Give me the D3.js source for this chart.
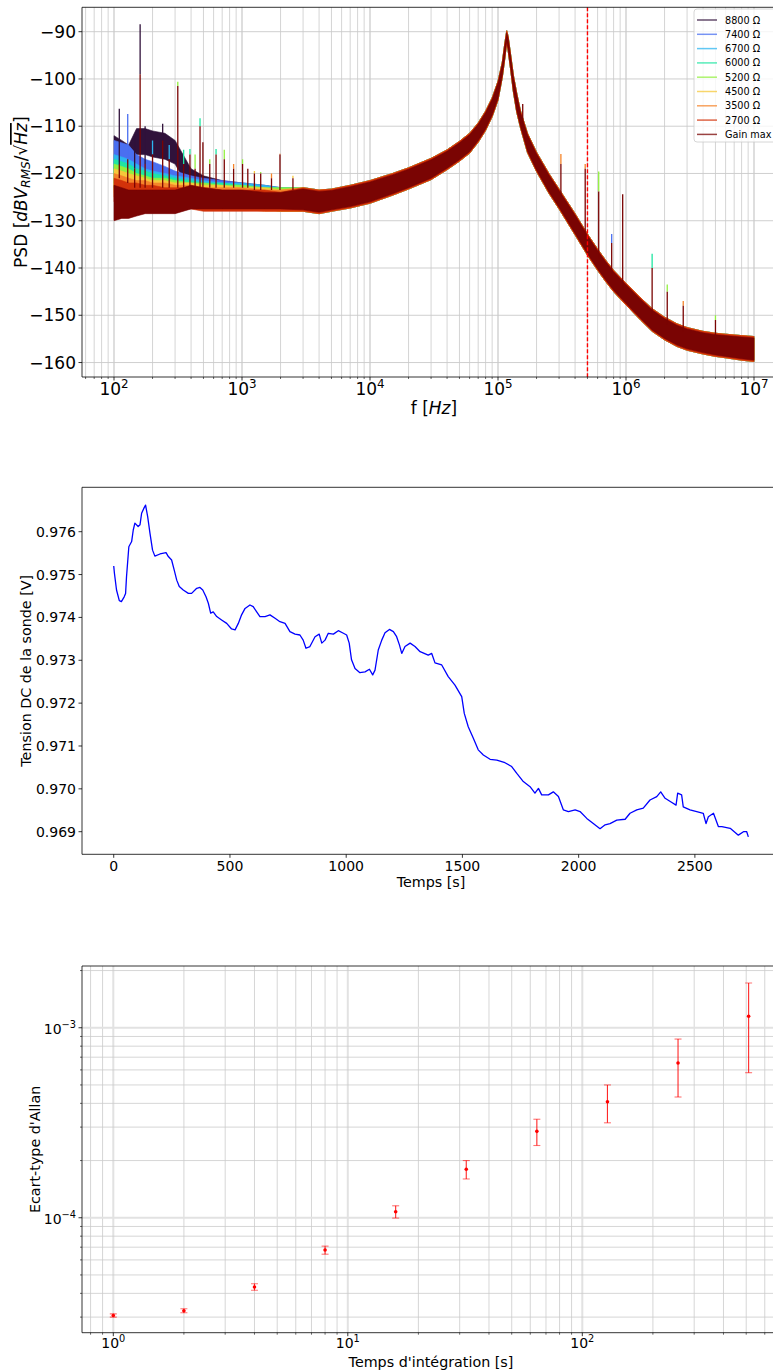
<!DOCTYPE html>
<html><head><meta charset="utf-8">
<script src="https://cdn.jsdelivr.net/npm/d3@7"></script>
<style>
body{margin:0;background:#fff}
svg{display:block}
text{font-family:"DejaVu Sans",sans-serif;fill:#000}
</style>
</head><body>
<svg id="c" width="773" height="1371"></svg>
<script>
// ---------------- DATA : chart 1 (PSD) ----------------
const seriesNames = ["8800 Ω","7400 Ω","6700 Ω","6000 Ω","5200 Ω","4500 Ω","3500 Ω","2700 Ω","Gain max"];
const seriesColors = ["#30123b","#4a6ff0","#2cb6f0","#1fe6a2","#92f03e","#f6c83a","#f5842a","#d2320a","#7a0403"];
const freqLow = [100,115,130,150,175,200,250,300,400,500,700,1000,1500,2000];
// upper / lower envelope of each noisy trace below 2 kHz (dB)
const hi8800 = [-112,-113,-114,-110.5,-110.5,-111,-111.5,-113,-119,-120.5,-121.5,-122,-122.5,-123];
const lo8800 = [-121,-120,-120,-116,-116,-116.5,-117,-118,-124,-126,-127,-127,-127.5,-127.5];
const hi7400 = [-113,-113.5,-114,-116,-117,-117.5,-118.5,-119.5,-120.5,-121,-121.5,-122,-122.5,-123];
const lo7400 = [-120,-120.5,-121,-122,-123,-123.5,-124,-124.5,-125.5,-126,-126.5,-127,-127.5,-127.5];
const hi6700 = [-116,-116.5,-117,-118,-119,-119.5,-120,-120.5,-121,-121.5,-122,-122,-122.5,-123];
const lo6700 = [-122,-122.5,-123,-123.5,-124,-124.5,-125,-125.5,-126,-126.5,-127,-127,-127.5,-127.5];
const hi6000 = [-117,-117.5,-118,-119,-119.5,-120,-120.5,-121,-121.5,-122,-122,-122.5,-123,-123];
const lo6000 = [-123,-123.5,-124,-124.5,-125,-125,-125.5,-126,-126.5,-127,-127,-127.5,-127.5,-128];
const hi5200 = [-118,-118.5,-119,-120,-120.5,-121,-121,-121.5,-122,-122,-122.5,-122.5,-123,-123];
const lo5200 = [-123.5,-124,-124.5,-125,-125.5,-125.5,-126,-126.5,-126.5,-127,-127,-127.5,-127.5,-128];
const hi4500 = [-119,-119.5,-120,-120.5,-121,-121.5,-121.5,-122,-122,-122.5,-122.5,-123,-123,-123.5];
const lo4500 = [-124,-124.5,-125,-125.5,-126,-126,-126.5,-126.5,-127,-127,-127.5,-127.5,-127.5,-128];
const hi3500 = [-120,-120.5,-121,-121.5,-121.5,-122,-122,-122.5,-122.5,-123,-123,-123,-123.5,-123.5];
const lo3500 = [-125,-125.5,-126,-126,-126.5,-126.5,-127,-127,-127,-127.5,-127.5,-127.5,-128,-128];
const hi2700 = [-121,-121.5,-122,-122,-122.5,-122.5,-123,-123,-123,-123,-123.5,-123.5,-123.5,-124];
const lo2700 = [-126,-126.5,-127,-127,-127.5,-127.5,-127.5,-127.5,-127.5,-128,-128,-128,-128,-128];
const hiGain = [-122.5,-123,-123.5,-123.5,-123.5,-123.5,-123.5,-123.5,-122.5,-123,-123.5,-123.5,-124,-124];
const loGain = [-130,-129.5,-129.5,-129,-128.5,-128.5,-128.5,-128.5,-127.5,-127.5,-127.5,-127.5,-127.5,-127.5];
// above 3 kHz all traces overlap
const freqCommon = [3000,4000,5000,7000,1e4,1.5e4,2e4,3e4,4e4,5e4,6e4,7e4,8e4,9e4,1e5,1.08e5,1.13e5,1.17e5,1.2e5,1.25e5,1.32e5,1.4e5,1.5e5,1.7e5,2e5,2.5e5,3e5,4e5,5e5,6e5,7e5,8e5,1e6,1.3e6,1.6e6,2e6,2.5e6,3e6,4e6,5e6,6e6,8e6,1e7];
const commonHi = [-123,-123.5,-123.3,-122.5,-121.5,-120,-118.8,-116.8,-115,-113.2,-111.5,-109.3,-106.8,-104,-100.5,-96.5,-92.5,-89.8,-91,-94.5,-99.3,-103,-106.8,-111.5,-115.5,-120,-123.3,-128.5,-132.8,-136,-138.5,-140.5,-143.2,-146.3,-148.6,-150.4,-151.8,-152.6,-153.4,-153.8,-154,-154.3,-154.5];
const commonLo = [-128,-128.5,-128,-127.3,-126.3,-124.6,-123.3,-121.3,-119.2,-117.4,-115.7,-113.4,-110.9,-108,-104.5,-99.7,-95.7,-92.3,-94,-97.6,-102.8,-107,-110.4,-115.6,-119.6,-124.2,-127.5,-133,-137.3,-140.5,-143,-145,-147.8,-151,-153.4,-155.2,-156.6,-157.4,-158.2,-158.7,-159,-159.5,-159.8];
const gainCommonHi = [-123.3,-123.8,-123.6,-122.8,-121.8,-120.3,-119.1,-117.1,-115.3,-113.5,-111.8,-109.6,-107.1,-104.3,-100.8,-96.8,-92.8,-90.2,-91.3,-94.8,-99.6,-103.3,-107.1,-111.8,-115.8,-120.3,-123.6,-128.8,-133.1,-136.3,-138.8,-140.8,-143.5,-146.6,-148.9,-150.7,-152.1,-152.9,-153.7,-154.1,-154.3,-154.6,-154.8];
const gainCommonLo = [-127.7,-128.2,-127.7,-127,-126,-124.3,-123,-121,-118.9,-117.1,-115.4,-113.1,-110.6,-107.7,-104.2,-99.4,-95.4,-92,-93.7,-97.3,-102.5,-106.7,-110.1,-115.3,-119.3,-123.9,-127.2,-132.7,-137,-140.2,-142.7,-144.7,-147.5,-150.7,-153.1,-154.9,-156.3,-157.1,-157.9,-158.4,-158.7,-159.2,-159.5];
// narrow lines (spikes): frequency, base, top of "Gain max", top of highest trace, index of that trace
const spikeHz   = [110,128,145,160,175,200,240,270,315,350,392,430,470,495,560,627,727,860,1010,1110,1250,1400,1700,1980,2500,156e3,310e3,480e3,612e3,773e3,942e3,1.6e6,2.1e6,2.8e6,5e6];
const spikeBase = [-121,-122,-123,-123,-123,-123,-123,-123,-123,-123,-123,-123,-123,-123,-123,-123,-123,-123,-123,-123,-123.5,-123.5,-123.5,-123.5,-123.5,-110,-125,-134,-138,-141.5,-144.5,-150,-152,-153.5,-155];
const spikeGain = [-118,-117,-119,-99,-118,-116,-113,-117,-101.5,-118,-116,-119,-110,-113.4,-118,-116,-117,-119,-118,-119,-120,-120,-121,-116,-121,-105.3,-118,-119,-123.8,-134.7,-124.4,-140,-145,-148,-151];
const spikeTop  = [-106.3,-107.4,-112,-88.4,-110,-113,-109.5,-114,-100.6,-115,-114.8,-116,-108.3,-113.4,-117,-114.8,-115,-118,-117,-119,-119.5,-119.7,-120,-115.8,-120.5,-105.3,-115.9,-118,-119.6,-132.8,-124.4,-137,-143.5,-147,-150];
const spikeTip  = [0,1,0,0,0,2,0,2,4,3,3,4,3,8,4,3,4,6,4,8,5,4,6,6,5,8,6,6,4,1,8,3,4,6,4];
const markerHz = 5e5;
const psdYTicks = [-90,-100,-110,-120,-130,-140,-150,-160];

// ---------------- DATA : chart 2 (DC voltage) ----------------
const timeS = [0,3,12,24,33,45,51,55,65,77,84,91,105,113,120,130,137,146,156,167,177,199,225,235,249,260,271,282,299,321,335,357,371,383,397,407,417,428,443,464,486,507,522,536,550,565,586,600,615,629,651,672,694,715,737,758,780,801,815,827,844,866,884,895,909,923,945,966,988,1002,1013,1023,1038,1059,1081,1100,1114,1124,1138,1153,1167,1186,1203,1217,1229,1239,1253,1275,1296,1318,1353,1368,1382,1411,1439,1468,1497,1508,1525,1547,1568,1590,1619,1648,1683,1712,1734,1762,1791,1812,1827,1841,1870,1891,1913,1934,1956,1985,2006,2035,2063,2092,2114,2135,2164,2200,2221,2250,2278,2307,2336,2353,2372,2401,2419,2426,2443,2450,2479,2508,2536,2548,2558,2580,2601,2616,2652,2687,2709,2723,2730];
const voltV = [0.97520,0.97503,0.97464,0.97439,0.97437,0.97448,0.97456,0.97495,0.97565,0.97577,0.97604,0.97620,0.97612,0.97616,0.97643,0.97655,0.97662,0.97635,0.97596,0.97557,0.97543,0.97548,0.97551,0.97542,0.97534,0.97511,0.97487,0.97472,0.97464,0.97456,0.97456,0.97468,0.97470,0.97464,0.97448,0.97433,0.97410,0.97413,0.97402,0.97394,0.97386,0.97373,0.97371,0.97386,0.97406,0.97421,0.97429,0.97425,0.97413,0.97402,0.97402,0.97406,0.97398,0.97390,0.97386,0.97367,0.97361,0.97359,0.97347,0.97328,0.97332,0.97355,0.97361,0.97340,0.97347,0.97363,0.97361,0.97369,0.97363,0.97359,0.97340,0.97301,0.97281,0.97271,0.97273,0.97279,0.97266,0.97277,0.97324,0.97347,0.97364,0.97372,0.97367,0.97355,0.97336,0.97316,0.97332,0.97340,0.97332,0.97320,0.97312,0.97316,0.97294,0.97289,0.97262,0.97242,0.97215,0.97176,0.97145,0.97118,0.97091,0.97079,0.97069,0.97067,0.97061,0.97052,0.97036,0.97017,0.97005,0.96990,0.97001,0.96986,0.96986,0.96993,0.96982,0.96951,0.96947,0.96951,0.96947,0.96931,0.96919,0.96907,0.96916,0.96919,0.96927,0.96929,0.96943,0.96951,0.96955,0.96974,0.96982,0.96993,0.96978,0.96968,0.96962,0.96990,0.96986,0.96958,0.96951,0.96947,0.96943,0.96919,0.96935,0.96943,0.96912,0.96912,0.96908,0.96892,0.96900,0.96900,0.96888];
const voltTicks = [0.969,0.970,0.971,0.972,0.973,0.974,0.975,0.976];
const timeTicks = [0,500,1000,1500,2000,2500];

// ---------------- DATA : chart 3 (Allan deviation) ----------------
const tauS    = [1,2,4,8,16,32,64,128,256,512];
const adev    = [3.06e-5,3.24e-5,4.32e-5,6.76e-5,1.076e-4,1.80e-4,2.85e-4,4.08e-4,6.52e-4,1.15e-3];
const adevErr = [6e-7,8e-7,1.7e-6,3.3e-6,8e-6,2e-5,4.5e-5,9.2e-5,2.2e-4,5.7e-4];

// ---------------- DRAWING ----------------
const svg = d3.select("#c");
const defs = svg.append("defs");
function powLabel(sel, base, exp, fs){
  sel.append("tspan").text(base);
  sel.append("tspan").attr("font-size", fs*0.7).attr("dy", -fs*0.42).text(exp);
}
function clip(id, x0, y0, x1, y1){
  defs.append("clipPath").attr("id", id).append("rect").attr("x", x0).attr("y", y0).attr("width", x1-x0).attr("height", y1-y0);
}
function minorLog(lo, hi){
  const out=[];
  for(let e=Math.floor(Math.log10(lo)); e<=Math.ceil(Math.log10(hi)); e++){
    for(let m=1;m<10;m++){ const v=m*Math.pow(10,e); if(v>=lo && v<=hi) out.push({v, major:m===1}); }
  }
  return out;
}

// ===== chart 1 =====
{
  const L=82, R=786, T=7.3, B=377;
  const x = d3.scaleLog().domain([Math.pow(10,1.75), Math.pow(10,7.25)]).range([L,R]);
  const y = d3.scaleLinear().domain([-163.06,-84.84]).range([B,T]);
  const g = svg.append("g");
  clip("c1", L, T, R, B);
  const grid = g.append("g");
  minorLog(x.domain()[0], x.domain()[1]).forEach(t=>{
    grid.append("line").attr("x1",x(t.v)).attr("x2",x(t.v)).attr("y1",T).attr("y2",B)
      .attr("stroke", t.major?"#dedede":"#c9c9c9").attr("stroke-width", t.major?2:0.8);
  });
  psdYTicks.forEach(v=>{
    grid.append("line").attr("x1",L).attr("x2",R).attr("y1",y(v)).attr("y2",y(v))
      .attr("stroke","#c9c9c9").attr("stroke-width",0.9);
  });
  const his=[hi8800,hi7400,hi6700,hi6000,hi5200,hi4500,hi3500,hi2700,hiGain];
  const los=[lo8800,lo7400,lo6700,lo6000,lo5200,lo4500,lo3500,lo2700,loGain];
  const series = seriesNames.map((n,i)=>{
    const cHi = i===8?gainCommonHi:commonHi, cLo = i===8?gainCommonLo:commonLo;
    const pts = freqLow.map((f,j)=>({f, hi:his[i][j], lo:los[i][j]}))
      .concat(freqCommon.map((f,j)=>({f, hi:cHi[j], lo:cLo[j]})));
    return {name:n, color:seriesColors[i], pts};
  });
  const area = d3.area().x(d=>x(d.f)).y0(d=>y(d.lo)).y1(d=>y(d.hi));
  const plot = g.append("g").attr("clip-path","url(#c1)");
  series.forEach(s=>{
    plot.append("path").attr("d", area(s.pts)).attr("fill", s.color)
      .attr("stroke", s.color).attr("stroke-width", 0.6).attr("stroke-linejoin","round");
  });
  spikeHz.forEach((f,k)=>{
    plot.append("line").attr("x1",x(f)).attr("x2",x(f)).attr("y1",y(spikeGain[k])).attr("y2",y(spikeTop[k]))
      .attr("stroke", seriesColors[spikeTip[k]]).attr("stroke-width",1.3);
    plot.append("line").attr("x1",x(f)).attr("x2",x(f)).attr("y1",y(spikeBase[k])).attr("y2",y(spikeGain[k]))
      .attr("stroke", seriesColors[8]).attr("stroke-width",1.3);
  });
  plot.append("line").attr("x1",x(markerHz)).attr("x2",x(markerHz)).attr("y1",T).attr("y2",B)
    .attr("stroke","red").attr("stroke-width",1.4).attr("stroke-dasharray","4,2");
  // frame
  g.append("path").attr("d",`M${R},${T}H${L}V${B}H${R}`).attr("fill","none").attr("stroke","#000").attr("stroke-width",0.8);
  // x ticks
  minorLog(x.domain()[0], x.domain()[1]).forEach(t=>{
    g.append("line").attr("x1",x(t.v)).attr("x2",x(t.v)).attr("y1",B).attr("y2",B+(t.major?3.5:2))
      .attr("stroke","#000").attr("stroke-width",t.major?0.8:0.6);
  });
  [2,3,4,5,6,7].forEach(e=>{
    const t = g.append("text").attr("x",x(Math.pow(10,e))).attr("y",B+18).attr("text-anchor","middle").attr("font-size",17);
    powLabel(t, "10", String(e), 17);
  });
  psdYTicks.forEach(v=>{
    g.append("line").attr("x1",L-3.5).attr("x2",L).attr("y1",y(v)).attr("y2",y(v)).attr("stroke","#000").attr("stroke-width",0.8);
    g.append("text").attr("x",L-6).attr("y",y(v)+6).attr("text-anchor","end").attr("font-size",17).text("−"+Math.abs(v));
  });
  // x label
  const xl = g.append("text").attr("x",(L+R)/2).attr("y",B+37).attr("text-anchor","middle").attr("font-size",17);
  xl.append("tspan").text("f [");
  xl.append("tspan").attr("font-style","italic").text("Hz");
  xl.append("tspan").text("]");
  // y label
  const yl = g.append("text").attr("transform",`translate(27,${(T+B)/2}) rotate(-90)`).attr("text-anchor","middle").attr("font-size",17);
  yl.append("tspan").text("PSD [");
  yl.append("tspan").attr("font-style","italic").text("dBV");
  yl.append("tspan").attr("font-style","italic").attr("font-size",12).attr("dy",3).text("RMS");
  yl.append("tspan").attr("dy",-3).text("/√");
  yl.append("tspan").attr("font-style","italic").attr("text-decoration","overline").text("Hz");
  yl.append("tspan").text("]");
  // legend
  const lg = g.append("g");
  lg.append("rect").attr("x",694).attr("y",9).attr("width",110).attr("height",133).attr("rx",3)
    .attr("fill","#fff").attr("fill-opacity",0.8).attr("stroke","#cccccc").attr("stroke-width",0.8);
  seriesNames.forEach((n,i)=>{
    const yy = 20 + i*14.3;
    lg.append("line").attr("x1",697).attr("x2",717).attr("y1",yy).attr("y2",yy)
      .attr("stroke",seriesColors[i]).attr("stroke-width",1.5).attr("stroke-opacity",0.75);
    lg.append("text").attr("x",725).attr("y",yy+3.5).attr("font-size",9.7).text(n);
  });
}

// ===== chart 2 =====
{
  const L=82, R=786, T=487.3, B=854.3;
  const x = d3.scaleLinear().domain([-136.5, 2892]).range([L,R]);
  const y = d3.scaleLinear().domain([0.969,0.976]).range([831.7,531.7]);
  const g = svg.append("g");
  clip("c2", L, T, R, B);
  const line = d3.line().x((d,i)=>x(timeS[i])).y(d=>y(d));
  g.append("g").attr("clip-path","url(#c2)").append("path").attr("d", line(voltV))
    .attr("fill","none").attr("stroke","#0000ff").attr("stroke-width",1.3).attr("stroke-linejoin","round");
  g.append("path").attr("d",`M${R},${T}H${L}V${B}H${R}`).attr("fill","none").attr("stroke","#000").attr("stroke-width",0.8);
  timeTicks.forEach(v=>{
    g.append("line").attr("x1",x(v)).attr("x2",x(v)).attr("y1",B).attr("y2",B+3.5).attr("stroke","#000").attr("stroke-width",0.8);
    g.append("text").attr("x",x(v)).attr("y",B+16.5).attr("text-anchor","middle").attr("font-size",14).text(v);
  });
  voltTicks.forEach(v=>{
    g.append("line").attr("x1",L-3.5).attr("x2",L).attr("y1",y(v)).attr("y2",y(v)).attr("stroke","#000").attr("stroke-width",0.8);
    g.append("text").attr("x",L-6).attr("y",y(v)+5).attr("text-anchor","end").attr("font-size",14).text(d3.format(".3f")(v));
  });
  g.append("text").attr("x",431).attr("y",B+33).attr("text-anchor","middle").attr("font-size",14.3).text("Temps [s]");
  g.append("text").attr("transform",`translate(31,${(T+B)/2}) rotate(-90)`).attr("text-anchor","middle").attr("font-size",14.3).text("Tension DC de la sonde [V]");
}

// ===== chart 3 =====
{
  const L=82, R=786, T=966, B=1332.7;
  const x = d3.scaleLog().domain([Math.pow(10,(L-113.3)/234.5), Math.pow(10,(R-113.3)/234.5)]).range([L,R]);
  const y = d3.scaleLog().domain([Math.pow(10,-4.605), Math.pow(10,-2.675)]).range([B,T]);
  const g = svg.append("g");
  clip("c3", L, T, R, B);
  const grid = g.append("g");
  minorLog(x.domain()[0], x.domain()[1]).forEach(t=>{
    grid.append("line").attr("x1",x(t.v)).attr("x2",x(t.v)).attr("y1",T).attr("y2",B)
      .attr("stroke", t.major?"#e2e2e2":"#cbcbcb").attr("stroke-width", t.major?2:0.8);
  });
  minorLog(y.domain()[0], y.domain()[1]).forEach(t=>{
    grid.append("line").attr("x1",L).attr("x2",R).attr("y1",y(t.v)).attr("y2",y(t.v))
      .attr("stroke", t.major?"#e2e2e2":"#cbcbcb").attr("stroke-width", t.major?2:0.8);
  });
  const pg = g.append("g").attr("clip-path","url(#c3)");
  tauS.forEach((t,i)=>{
    const cx = x(t), y0 = y(adev[i]-adevErr[i]), y1 = y(adev[i]+adevErr[i]);
    pg.append("line").attr("x1",cx).attr("x2",cx).attr("y1",y0).attr("y2",y1).attr("stroke","#ff0000").attr("stroke-width",1.1).attr("stroke-opacity",0.85);
    [y0,y1].forEach(yy=>pg.append("line").attr("x1",cx-3.5).attr("x2",cx+3.5).attr("y1",yy).attr("y2",yy)
      .attr("stroke","#ff0000").attr("stroke-width",1.1).attr("stroke-opacity",0.55));
    pg.append("circle").attr("cx",cx).attr("cy",y(adev[i])).attr("r",1.8).attr("fill","#ff0000");
  });
  g.append("path").attr("d",`M${R},${T}H${L}V${B}H${R}`).attr("fill","none").attr("stroke","#000").attr("stroke-width",0.8);
  minorLog(x.domain()[0], x.domain()[1]).forEach(t=>{
    g.append("line").attr("x1",x(t.v)).attr("x2",x(t.v)).attr("y1",B).attr("y2",B+(t.major?3.5:2)).attr("stroke","#000").attr("stroke-width",t.major?0.8:0.6);
  });
  minorLog(y.domain()[0], y.domain()[1]).forEach(t=>{
    g.append("line").attr("x1",L-(t.major?3.5:2)).attr("x2",L).attr("y1",y(t.v)).attr("y2",y(t.v)).attr("stroke","#000").attr("stroke-width",t.major?0.8:0.6);
  });
  [0,1,2].forEach(e=>{
    const t = g.append("text").attr("x",x(Math.pow(10,e))).attr("y",B+15.5).attr("text-anchor","middle").attr("font-size",14);
    powLabel(t,"10",String(e),14);
  });
  [-3,-4].forEach(e=>{
    const t = g.append("text").attr("x",L-6).attr("y",y(Math.pow(10,e))+6).attr("text-anchor","end").attr("font-size",14);
    powLabel(t,"10","−"+Math.abs(e),14);
  });
  g.append("text").attr("x",431).attr("y",B+34).attr("text-anchor","middle").attr("font-size",14.3).text("Temps d'intégration [s]");
  g.append("text").attr("transform",`translate(40,${(T+B)/2}) rotate(-90)`).attr("text-anchor","middle").attr("font-size",14.3).text("Ecart-type d'Allan");
}
</script>
</body></html>
